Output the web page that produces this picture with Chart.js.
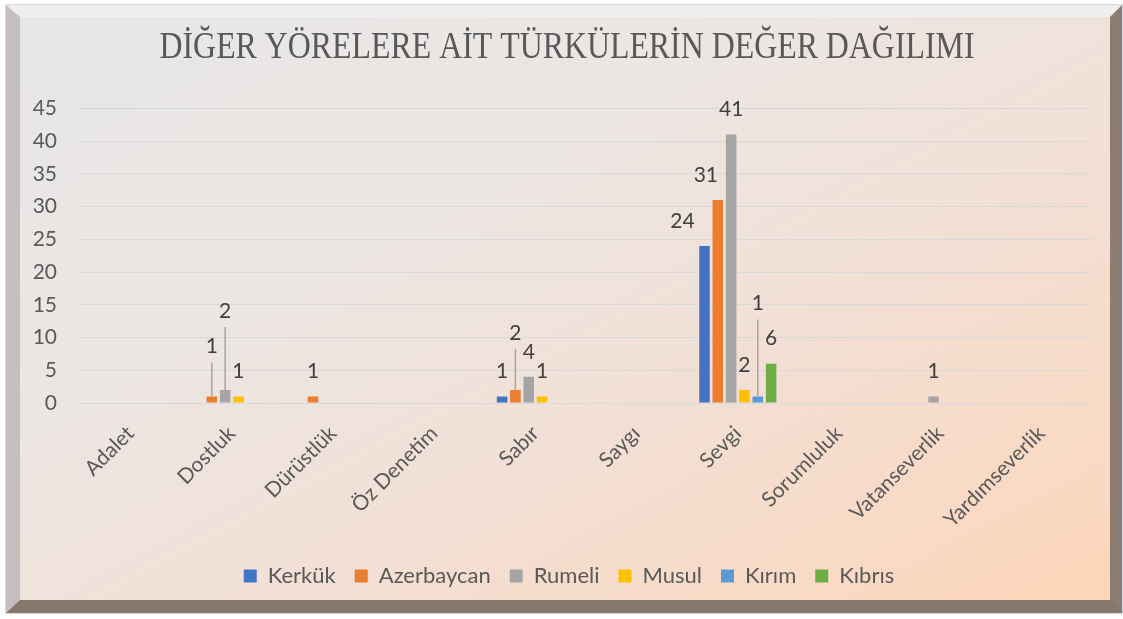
<!DOCTYPE html>
<html>
<head>
<meta charset="utf-8">
<script src="https://cdn.jsdelivr.net/npm/chart.js@4.4.1/dist/chart.umd.min.js"></script>
<style>
  html, body { margin: 0; padding: 0; background: #fff; }
  #frame {
    position: absolute; left: 6px; top: 5px;
    width: 1090px; height: 583px;
    border-style: solid;
    border-width: 12px 12px 13px 14px;
    border-color: #efefef #8b7b70 #85776e #c4bfbe;
    box-shadow: 0 0 0 1px #d8d8d8;
    background: linear-gradient(to bottom right, #e7e7e7 0%, #ece6e3 35%, #f3dfd3 65%, #fdd6b9 100%);
  }
  #wrap { position: absolute; left: 0; top: 0; width: 1123px; height: 619px; }
</style>
</head>
<body>
<div id="frame"></div>
<div id="wrap"><canvas id="myChart" width="1123" height="619"></canvas></div>
<script>
const categories = ['Adalet', 'Dostluk', 'Dürüstlük', 'Öz Denetim', 'Sabır', 'Saygı', 'Sevgi', 'Sorumluluk', 'Vatanseverlik', 'Yardımseverlik'];
const seriesNames = ['Kerkük', 'Azerbaycan', 'Rumeli', 'Musul', 'Kırım', 'Kıbrıs'];
const kerkuk     = [0, 0, 0, 0, 1, 0, 24, 0, 0, 0];
const azerbaycan = [0, 1, 1, 0, 2, 0, 31, 0, 0, 0];
const rumeli     = [0, 2, 0, 0, 4, 0, 41, 0, 1, 0];
const musul      = [0, 1, 0, 0, 1, 0, 2, 0, 0, 0];
const kirim      = [0, 0, 0, 0, 0, 0, 1, 0, 0, 0];
const kibris     = [0, 0, 0, 0, 0, 0, 6, 0, 0, 0];
const yTicks = [0, 5, 10, 15, 20, 25, 30, 35, 40, 45];

const titleText = 'DİĞER YÖRELERE AİT TÜRKÜLERİN DEĞER DAĞILIMI';
const colors = ['#4472C4', '#ED7D31', '#A5A5A5', '#FFC000', '#5B9BD5', '#70AD47'];
const textColor = '#595959';
const font = 'Lato';

// labels that Excel had pulled away from their bars (dataset:category)
const labelNudges = {
    '1:1': { dy: -25, line: true },
    '2:1': { dy: -54, line: true },
    '1:4': { dy: -32, line: true },
    '0:6': { dx: -22 },
    '1:6': { dx: -12 },
    '4:6': { dy: -68, line: true }
};

const valueLabels = {
    id: 'valueLabels',
    afterDatasetsDraw(chart) {
        const ctx = chart.ctx;
        ctx.save();
        ctx.font = '21px ' + font;
        ctx.textAlign = 'center';
        ctx.textBaseline = 'middle';
        chart.data.datasets.forEach((ds, di) => {
            const meta = chart.getDatasetMeta(di);
            meta.data.forEach((bar, i) => {
                const v = ds.data[i];
                if (!v) return;
                const n = labelNudges[di + ':' + i] || {};
                const x = bar.x + (n.dx || 0);
                const y = bar.y - 25 + (n.dy || 0);
                if (n.line) {
                    ctx.strokeStyle = '#a6a6a6';
                    ctx.lineWidth = 1.5;
                    ctx.beginPath();
                    ctx.moveTo(bar.x, bar.y);
                    ctx.lineTo(bar.x, y + 16);
                    ctx.stroke();
                }
                ctx.fillStyle = '#404040';
                ctx.fillText(String(v), x, y);
            });
        });
        ctx.restore();
    }
};

// the original title is a narrow serif, so squeeze it horizontally
const narrowTitle = {
    id: 'narrowTitle',
    afterDraw(chart) {
        const ctx = chart.ctx;
        ctx.save();
        ctx.font = '38px "Liberation Serif"';
        ctx.fillStyle = textColor;
        ctx.textAlign = 'center';
        ctx.textBaseline = 'alphabetic';
        const w = ctx.measureText(titleText).width;
        const sx = 815 / w;
        ctx.translate(567, 58);
        ctx.scale(sx, 1);
        ctx.fillText(titleText, 0, 0);
        ctx.restore();
    }
};

// legend sits centred on the whole frame, not on the plot
const legendShift = {
    id: 'legendShift',
    afterLayout(chart) {
        chart.legend.left += 13;
        chart.legend.right += 13;
    }
};

const seriesData = [kerkuk, azerbaycan, rumeli, musul, kirim, kibris];

const ctx = document.getElementById('myChart').getContext('2d');
const chartInstance = new Chart(ctx, {
    type: 'bar',
    data: {
        labels: categories,
        datasets: seriesNames.map((name, i) => ({
            label: name,
            data: seriesData[i],
            backgroundColor: colors[i],
            borderWidth: 0,
            categoryPercentage: 0.79,
            barPercentage: 0.79
        }))
    },
    options: {
        responsive: false,
        animation: false,
        layout: { padding: { left: 20, right: 31, top: 0, bottom: 22 } },
        plugins: {
            title: {
                display: true,
                text: titleText,
                color: 'rgba(0,0,0,0)',
                font: { family: 'Liberation Serif', size: 32, weight: 'normal' },
                padding: { top: 26, bottom: 44 }
            },
            legend: {
                position: 'bottom',
                labels: {
                    color: textColor,
                    font: { family: font, size: 22 },
                    boxWidth: 13,
                    boxHeight: 13,
                    padding: 19
                }
            },
            tooltip: { enabled: false }
        },
        scales: {
            x: {
                grid: { display: false },
                border: { display: false },
                ticks: {
                    color: textColor,
                    font: { family: font, size: 21 },
                    maxRotation: 45,
                    minRotation: 45,
                    padding: 10
                },
                afterFit(scale) { scale.height = 143; }
            },
            y: {
                min: 0,
                max: 45,
                border: { display: false },
                grid: { color: '#d9d9d9', lineWidth: 1, drawTicks: false },
                afterBuildTicks(scale) { scale.ticks = yTicks.map(v => ({ value: v })); },
                ticks: {
                    color: textColor,
                    font: { family: font, size: 21 },
                    padding: 23
                },
                afterFit(scale) { scale.width = 60; }
            }
        }
    },
    plugins: [valueLabels, narrowTitle, legendShift]
});
</script>
</body>
</html>
